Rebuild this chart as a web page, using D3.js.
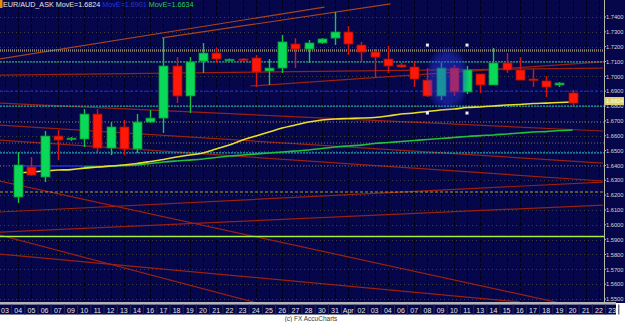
<!DOCTYPE html>
<html>
<head>
<meta charset="utf-8">
<script src="https://cdn.jsdelivr.net/npm/d3@7"></script>
<style>
body{margin:0;background:#fff;}
svg{display:block;font-family:"Liberation Sans",Arial,sans-serif;}
</style>
</head>
<body>
<svg id="chart" width="625" height="322"></svg>
<script>
//date labels on the bottom strip (one per session)
var dateLabels = ["03","04","05","06","07","09","10","11","12","13","14","16","17","18","19","20",
    "21","22","23","24","25","26","27","28","30","31","Apr","02","03","04","06",
    "07","08","09","10","11","13","14","15","16","17","18","19","20","21","22","23"];

//candles start on the second label ("04")
var candleStart = 1;
var opens  = [1.6187,1.6389,1.6322,1.6598,1.6578,1.6578,1.6746,1.6517,1.6659,1.6511,1.6692,1.6719,1.7070,1.6868,1.7103,1.7157,1.7110,1.7117,1.7124,1.7036,1.7056,1.7218,1.7184,1.7225,1.7258,1.7299,1.7211,1.7164,1.7117,1.7077,1.7063,1.6975,1.6868,1.7056,1.6895,1.7016,1.6942,1.7090,1.7043,1.6982,1.6969,1.6942,1.6888];
var highs  = [1.6490,1.6457,1.6632,1.6639,1.6591,1.6780,1.6780,1.6692,1.6706,1.6746,1.6773,1.7258,1.7130,1.7130,1.7225,1.7191,1.7120,1.7124,1.7144,1.7117,1.7279,1.7258,1.7245,1.7258,1.7434,1.7339,1.7232,1.7184,1.7205,1.7090,1.7097,1.7056,1.7090,1.7077,1.7070,1.7016,1.7191,1.7157,1.7130,1.7050,1.7002,1.6962,1.6908];
var lows   = [1.6147,1.6330,1.6288,1.6436,1.6564,1.6524,1.6490,1.6470,1.6470,1.6484,1.6686,1.6618,1.6820,1.6753,1.7023,1.7090,1.7103,1.7100,1.6928,1.6942,1.7023,1.7056,1.7090,1.7218,1.7211,1.7144,1.7097,1.6989,1.7023,1.7056,1.6928,1.6861,1.6841,1.6868,1.6881,1.6888,1.6942,1.7023,1.6975,1.6928,1.6861,1.6928,1.6800];
var closes = [1.6403,1.6335,1.6598,1.6571,1.6584,1.6746,1.6517,1.6659,1.6511,1.6692,1.6719,1.7070,1.6868,1.7097,1.7157,1.7117,1.7115,1.7108,1.7029,1.7056,1.7232,1.7184,1.7225,1.7252,1.7299,1.7218,1.7164,1.7130,1.7070,1.7063,1.6982,1.6868,1.7056,1.6895,1.7043,1.6942,1.7090,1.7043,1.6975,1.6975,1.6928,1.6955,1.6820];

//moving averages (yellow from first candle, green from sixth)
var yellowMA = [1.6349,1.6356,1.6362,1.6369,1.6372,1.6382,1.6389,1.6396,1.6403,1.6413,1.6426,1.6440,1.6457,1.6470,1.6484,1.6511,1.6537,1.6571,1.6598,1.6625,1.6652,1.6672,1.6692,1.6706,1.6713,1.6716,1.6719,1.6723,1.6733,1.6746,1.6753,1.6763,1.6773,1.6780,1.6790,1.6794,1.6800,1.6807,1.6810,1.6817,1.6820,1.6824,1.6827];
var greenStart = 6;
var greenMA = [1.6389,1.6389,1.6396,1.6399,1.6403,1.6413,1.6423,1.6430,1.6436,1.6443,1.6453,1.6463,1.6470,1.6477,1.6484,1.6490,1.6497,1.6504,1.6514,1.6524,1.6531,1.6537,1.6548,1.6554,1.6561,1.6568,1.6575,1.6581,1.6588,1.6595,1.6601,1.6605,1.6612,1.6618,1.6625,1.6628,1.6635,1.6639];

//price axis
var priceTicks = d3.range(1.55, 1.7401, 0.01);

//horizontal levels drawn on the chart
var tealLevels = [1.7097, 1.6800, 1.6484];
var greyLevels = [1.6692, 1.6551, 1.6396];
var resistance = 1.7174;
var yellowLevel = 1.6221;
var limeLevel = 1.5921;
var blueLevel = 1.6901;
var blueSegment = [[1, 1.6396], [7.2, 1.6396]];

//trend lines, [session index, price] end points
var upperChannel = [
    [[-0.4, 1.7117], [24.2, 1.7467]],
    [[11.9, 1.7259], [29.2, 1.7488]]
];
var trendLines = [
    [[-0.4, 1.7009], [45.3, 1.7056]],
    [[18.6, 1.6935], [45.3, 1.7097]],
    [[-0.4, 1.6820], [45.3, 1.6632]],
    [[-0.4, 1.6672], [45.3, 1.6416]],
    [[-0.4, 1.6571], [45.3, 1.6295]],
    [[-0.4, 1.6086], [45.3, 1.6288]],
    [[-0.4, 1.5951], [45.3, 1.6133]],
    [[-0.4, 1.6295], [42.05, 1.5473]],
    [[-0.4, 1.5931], [19.1, 1.5473]],
    [[-0.4, 1.5803], [39.0, 1.5480]]
];

//highlighted area (session from/to, price low/high)
var highlightBox = [32, 35, 1.6753, 1.7211];

var lastPrice = "1.6824";
var titleParts = [
    {text: "EUR/AUD_ASK MovE=1.6824", fill: "#e6e6dc"},
    {text: " MovE=1.6901", fill: "#2236d8"},
    {text: " MovE=1.6634", fill: "#22d24e"}
];

var svg = d3.select('#chart');
var plotW = 604, plotH = 302;
var bg = '#06064a';

var x = d3.scaleLinear().domain([0, dateLabels.length - 1]).range([5, 612.2]);
var y = d3.scaleLinear().domain([1.55, 1.74]).range([299, 17]);

svg.append('rect').attr('width', 625).attr('height', 322).attr('fill', '#ffffff');
svg.append('rect').attr('width', 625).attr('height', plotH + 1).attr('fill', bg);

svg.append('clipPath').attr('id', 'plotClip')
    .append('rect').attr('width', plotW).attr('height', plotH);

var plot = svg.append('g').attr('clip-path', 'url(#plotClip)');

//grid
plot.selectAll('.hgrid').data(priceTicks).enter().append('line')
    .attr('x1', 0).attr('x2', plotW)
    .attr('y1', function(d){ return Math.round(y(d)) + 0.5; })
    .attr('y2', function(d){ return Math.round(y(d)) + 0.5; })
    .attr('stroke', '#3e3e40').attr('stroke-dasharray', '1,3');
plot.selectAll('.vgrid').data(dateLabels).enter().append('line')
    .attr('x1', function(d, i){ return Math.round(x(i)) + 0.5; })
    .attr('x2', function(d, i){ return Math.round(x(i)) + 0.5; })
    .attr('y1', 0).attr('y2', plotH)
    .attr('stroke', '#000012').attr('stroke-dasharray', '4,2');

function hline(level, color, dash, width){
    plot.append('line')
        .attr('x1', 0).attr('x2', plotW)
        .attr('y1', y(level)).attr('y2', y(level))
        .attr('stroke', color).attr('stroke-width', width || 1)
        .attr('stroke-dasharray', dash);
}

var seg = d3.line().x(function(d){ return x(d[0]); }).y(function(d){ return y(d[1]); });

//trend lines
upperChannel.forEach(function(l){
    plot.append('path').attr('d', seg(l)).attr('fill', 'none')
        .attr('stroke', '#a8441c').attr('stroke-width', 1.2);
});
trendLines.forEach(function(l){
    plot.append('path').attr('d', seg(l)).attr('fill', 'none')
        .attr('stroke', '#9a2012').attr('stroke-width', 1.2);
});

//levels
hline(resistance, '#8c846a', '1,1', 2.5);
tealLevels.forEach(function(v){ hline(v, '#1ea8a8', '2,1', 1.2); });
greyLevels.forEach(function(v){ hline(v, '#6e6c56', '1,2', 1.2); });
hline(yellowLevel, '#a8a824', '3,2', 1.2);
hline(limeLevel, '#a6f03c', null, 1.5);
hline(blueLevel, '#1c2cb8', '3,2', 1.2);
plot.append('path').attr('d', seg(blueSegment)).attr('stroke', '#1c2cd0').attr('stroke-width', 1.5);

//moving averages
var maLine = d3.line()
    .x(function(d){ return x(d[0]); })
    .y(function(d){ return y(d[1]); })
    .curve(d3.curveMonotoneX);
plot.append('path')
    .attr('d', maLine(greenMA.map(function(v, i){ return [greenStart + i, v]; })))
    .attr('fill', 'none').attr('stroke', '#22c03a').attr('stroke-width', 1.6);
plot.append('path')
    .attr('d', maLine(yellowMA.map(function(v, i){ return [candleStart + i, v]; })))
    .attr('fill', 'none').attr('stroke', '#e8e028').attr('stroke-width', 1.6);

//candles
var candles = opens.map(function(o, i){
    return {i: candleStart + i, o: o, h: highs[i], l: lows[i], c: closes[i]};
});
var bodyW = 9;
var cg = plot.selectAll('.candle').data(candles).enter().append('g');
cg.append('line')
    .attr('x1', function(d){ return Math.round(x(d.i)) + 0.5; })
    .attr('x2', function(d){ return Math.round(x(d.i)) + 0.5; })
    .attr('y1', function(d){ return y(d.h); })
    .attr('y2', function(d){ return y(d.l); })
    .attr('stroke', function(d){ return d.c >= d.o ? '#12c840' : '#d81410'; })
    .attr('stroke-width', 1.4);
cg.append('rect')
    .attr('x', function(d){ return Math.round(x(d.i)) - 4; })
    .attr('width', bodyW)
    .attr('y', function(d){ return y(Math.max(d.o, d.c)); })
    .attr('height', function(d){ return Math.max(1.5, y(Math.min(d.o, d.c)) - y(Math.max(d.o, d.c))); })
    .attr('fill', function(d){ return d.c >= d.o ? '#0ad858' : '#ff1808'; })
    .attr('stroke', function(d){ return d.c >= d.o ? '#10902c' : '#a01008'; })
    .attr('stroke-width', 0.8);

//highlight ellipse and its handles
var hx0 = x(highlightBox[0]), hx1 = x(highlightBox[1]);
var hy0 = y(highlightBox[3]), hy1 = y(highlightBox[2]);
var grad = svg.append('defs').append('radialGradient').attr('id', 'glow');
grad.append('stop').attr('offset', '0%').attr('stop-color', '#2a3cf0').attr('stop-opacity', 0.5);
grad.append('stop').attr('offset', '75%').attr('stop-color', '#2a3cf0').attr('stop-opacity', 0.4);
grad.append('stop').attr('offset', '100%').attr('stop-color', '#2a3cf0').attr('stop-opacity', 0.08);
plot.append('ellipse')
    .attr('cx', (hx0 + hx1) / 2).attr('cy', (hy0 + hy1) / 2)
    .attr('rx', (hx1 - hx0) / 2 + 2).attr('ry', (hy1 - hy0) / 2 - 2)
    .attr('fill', 'url(#glow)');
[[hx0, hy0], [hx1, hy0], [hx0, hy1], [hx1, hy1]].forEach(function(p){
    plot.append('rect').attr('x', p[0] - 1.5).attr('y', p[1] - 1.5)
        .attr('width', 3).attr('height', 3).attr('fill', '#f0f0f0');
});

//right price axis
svg.append('line').attr('x1', plotW + 0.5).attr('x2', plotW + 0.5)
    .attr('y1', 0).attr('y2', plotH).attr('stroke', '#b8b8a0');
svg.selectAll('.ptick').data(priceTicks).enter().append('text')
    .attr('x', 606).attr('y', function(d){ return y(d) + 2.2; })
    .attr('font-size', 5.7).attr('fill', '#d6d6d6')
    .text(function(d){ return d3.format('.4f')(d); });
svg.selectAll('.ptickmark').data(priceTicks).enter().append('line')
    .attr('x1', plotW).attr('x2', plotW + 2)
    .attr('y1', function(d){ return y(d); }).attr('y2', function(d){ return y(d); })
    .attr('stroke', '#b8b8a0');
svg.append('rect').attr('x', 605).attr('y', y(+lastPrice) - 5.5)
    .attr('width', 19).attr('height', 8).attr('fill', '#dcd46a');
svg.append('text').attr('x', 606).attr('y', y(+lastPrice) + 0.8)
    .attr('font-size', 5.7).attr('fill', '#fffbe0')
    .text(lastPrice);

//date strip
svg.append('rect').attr('x', 0).attr('y', plotH).attr('width', 616).attr('height', 2.5).attr('fill', '#b4b4b4');
svg.append('rect').attr('x', 0).attr('y', plotH + 2.5).attr('width', 616).attr('height', 10).attr('fill', bg);
svg.selectAll('.sep').data(dateLabels).enter().append('line')
    .attr('x1', function(d, i){ return x(i) + 6.6; })
    .attr('x2', function(d, i){ return x(i) + 6.6; })
    .attr('y1', plotH + 2.5).attr('y2', plotH + 12.5)
    .attr('stroke', '#2a2a50');
svg.selectAll('.dlab').data(dateLabels).enter().append('text')
    .attr('x', function(d, i){ return x(i); })
    .attr('y', plotH + 10.5)
    .attr('text-anchor', 'middle').attr('font-size', 7).attr('fill', '#e4e4e4')
    .text(function(d){ return d; });

svg.append('text').attr('x', 311).attr('y', 320.5).attr('text-anchor', 'middle')
    .attr('font-size', 6.5).attr('fill', '#3a3a3a').text('(c) FX AccuCharts');

//title
svg.append('rect').attr('x', 0).attr('y', 0).attr('width', 2.5).attr('height', 8).attr('fill', '#e88a10');
var title = svg.append('text').attr('x', 3).attr('y', 7).attr('font-size', 7.2);
titleParts.forEach(function(p){
    title.append('tspan').attr('fill', p.fill).attr('xml:space', 'preserve').text(p.text);
});
</script>
</body>
</html>
